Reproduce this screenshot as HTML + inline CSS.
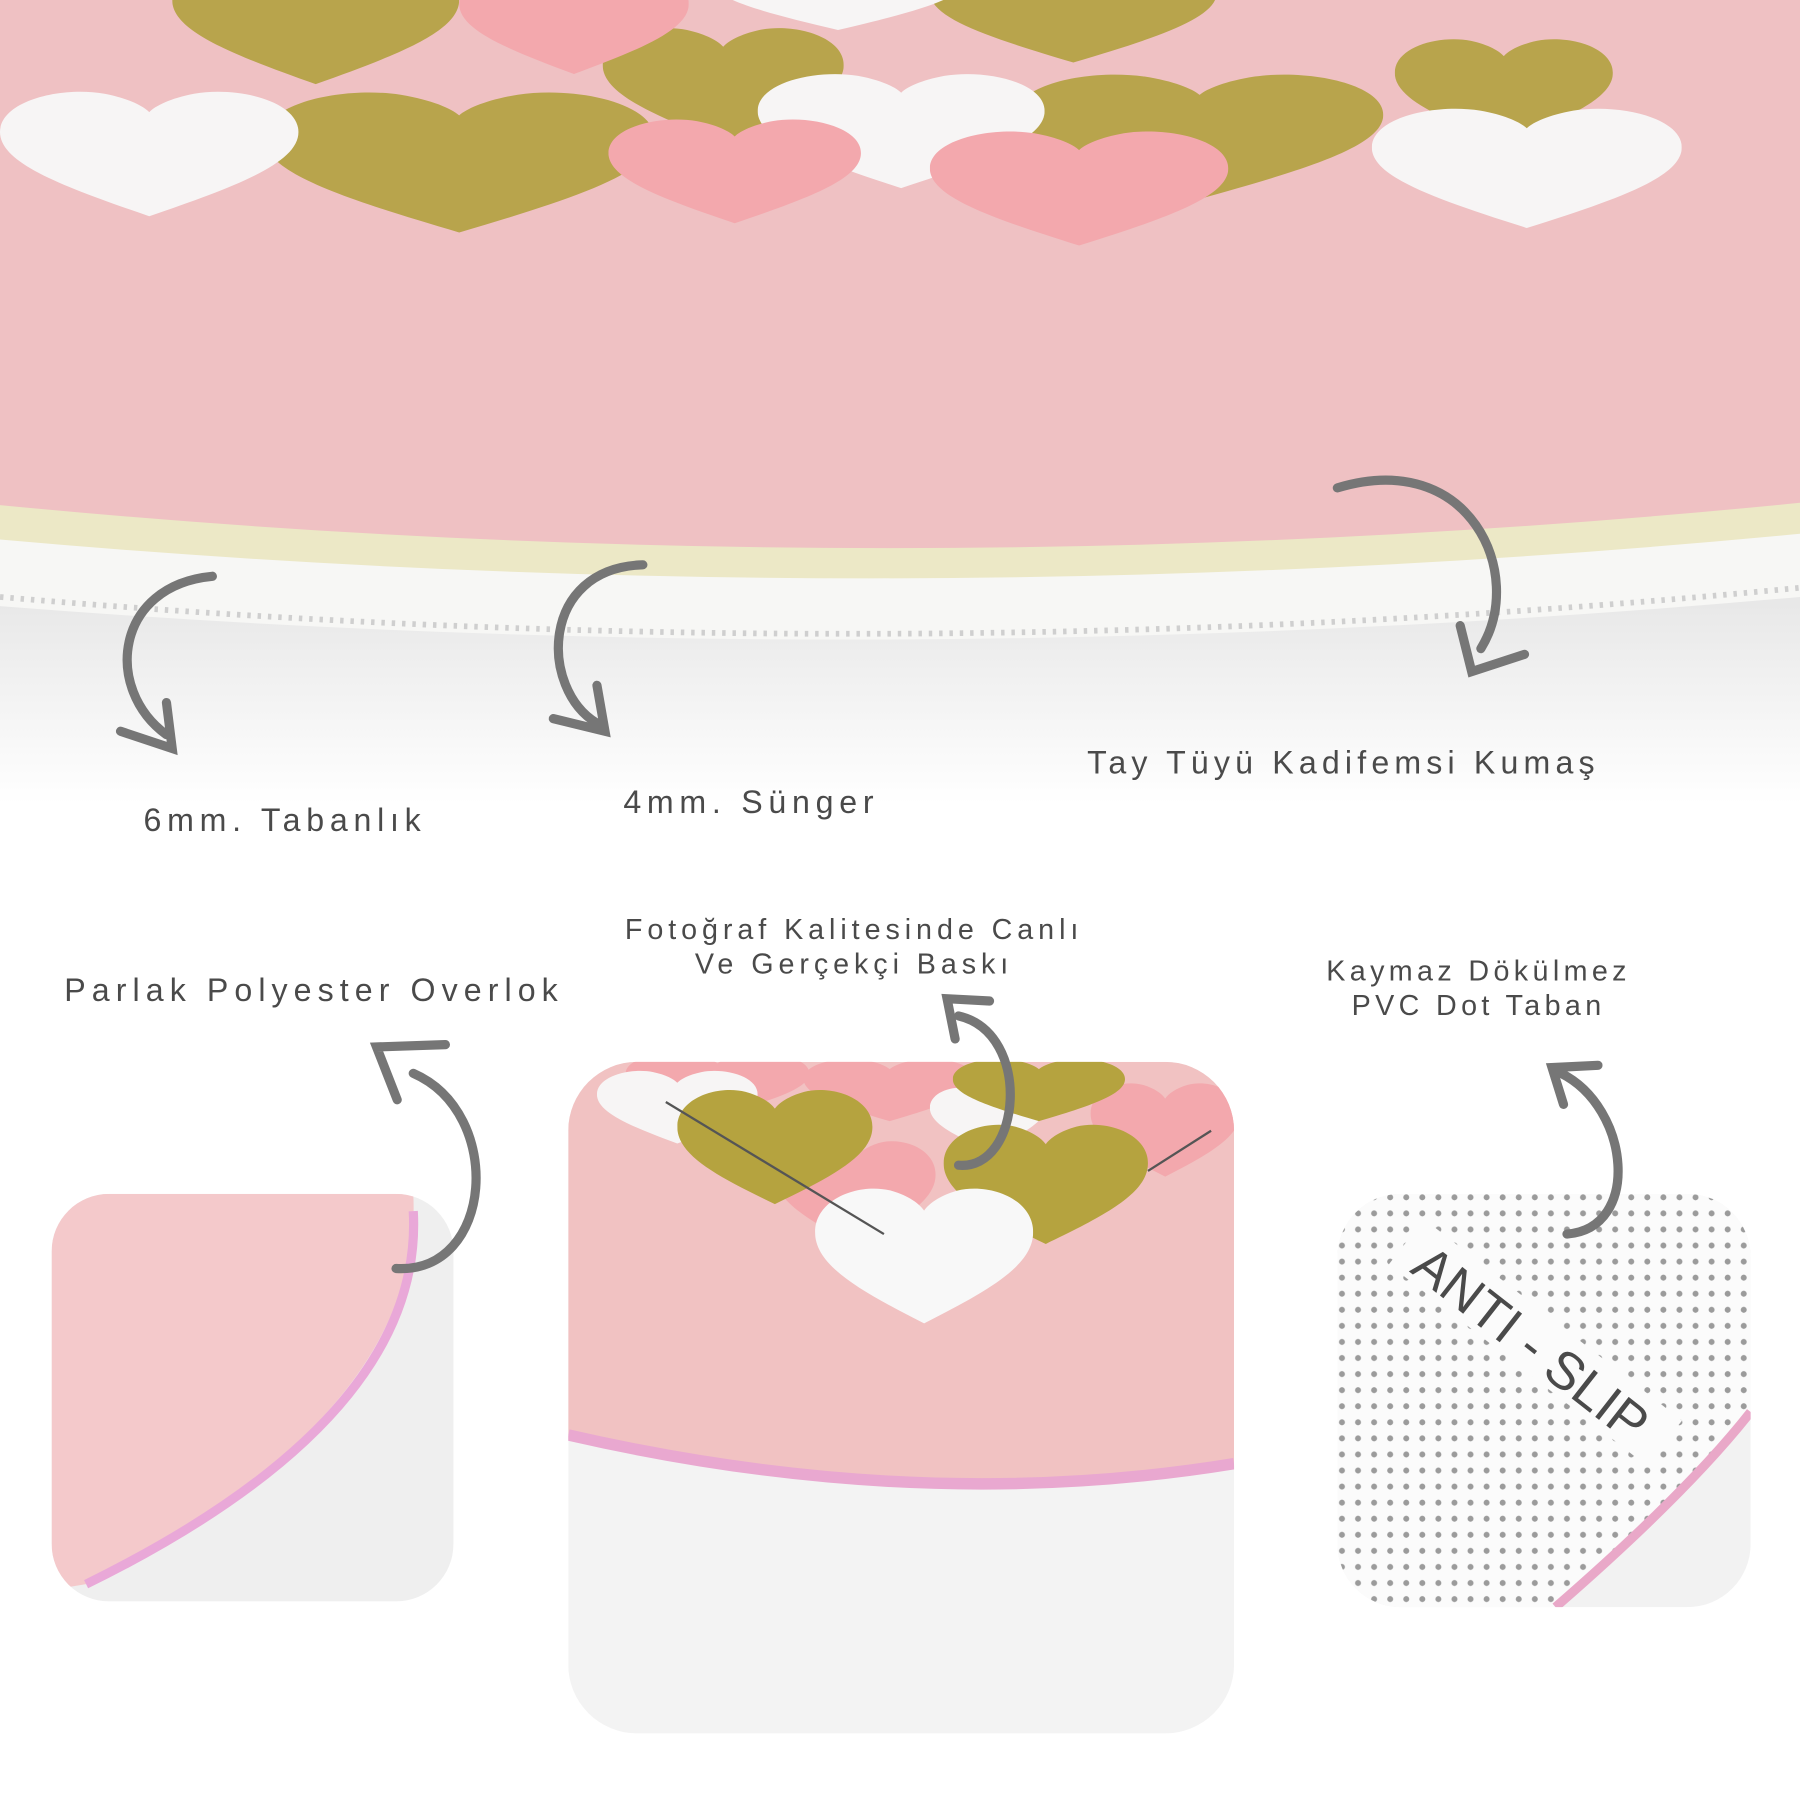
<!DOCTYPE html>
<html><head><meta charset="utf-8"><style>
html,body{margin:0;padding:0;background:#fff;}
svg{display:block}
text{font-family:"Liberation Sans",sans-serif;fill:#4a4a4a;}
</style></head><body>
<svg width="1800" height="1800" viewBox="0 0 1568 1568" xmlns="http://www.w3.org/2000/svg">
<defs>
<symbol id="heart" viewBox="-50 -45 100 90" preserveAspectRatio="none">
<path d="M0 40 C-30 20 -50 5 -50 -15 C-50 -35 -30 -45 -15 -40 C-7 -37 -2 -32 0 -28 C2 -32 7 -37 15 -40 C30 -45 50 -35 50 -15 C50 5 30 20 0 40Z"/>
</symbol>
<pattern id="dots" width="14" height="14" patternUnits="userSpaceOnUse">
<circle cx="7" cy="7" r="2.6" fill="#8a8a8a"/>
</pattern>
<linearGradient id="shadow" x1="0" y1="0" x2="0" y2="1"><stop offset="0" stop-color="#e6e6e6"/><stop offset="1" stop-color="#fff"/></linearGradient>
<clipPath id="cm"><rect x="495" y="925" width="580" height="585" rx="60"/></clipPath>
<clipPath id="cl"><rect x="45" y="1040" width="350" height="355" rx="50"/></clipPath>
<clipPath id="cr"><rect x="1165" y="1040" width="360" height="360" rx="55"/></clipPath>
</defs>
<rect width="1568" height="1568" fill="#fff"/>
<path d="M0 520 Q784 590 1568 510 L1568 700 L0 700Z" fill="url(#shadow)"/>
<path d="M0 430 Q784 516 1568 430 L1568 520 Q784 590 0 528Z" fill="#f7f7f5"/>
<path d="M0 520 Q784 588 1568 512" fill="none" stroke="#cfcfcf" stroke-width="5" stroke-dasharray="3 6"/>
<path d="M0 430 Q784 516 1568 430 L1568 465 Q784 540 0 470Z" fill="#ece8c6"/>
<path d="M0 0 H1568 V438 Q784 516 0 440Z" fill="#efc1c3"/>
<g fill="#b8a44c">
<use href="#heart" x="150" y="-40" width="250" height="120"/>
<use href="#heart" x="525" y="20" width="210" height="110"/>
<use href="#heart" x="230" y="75" width="340" height="135"/>
<use href="#heart" x="810" y="-40" width="250" height="100"/>
<use href="#heart" x="885" y="60" width="320" height="120"/>
<use href="#heart" x="1215" y="30" width="190" height="100"/>
</g>
<g fill="#f7f5f5">
<use href="#heart" x="0" y="75" width="260" height="120"/>
<use href="#heart" x="660" y="60" width="250" height="110"/>
<use href="#heart" x="1195" y="90" width="270" height="115"/>
<use href="#heart" x="620" y="-40" width="220" height="70"/>
</g>
<g fill="#f3a8ad">
<use href="#heart" x="400" y="-30" width="200" height="100"/>
<use href="#heart" x="810" y="110" width="260" height="110"/>
<use href="#heart" x="530" y="100" width="220" height="100"/>
</g>
<g fill="none" stroke="#767676" stroke-width="8" stroke-linecap="round">
<path d="M185 502 C100 510 90 600 145 640"/><path d="M105 637 L150 652 L145 612"/>
<path d="M560 492 C470 495 470 600 520 630"/><path d="M482 626 L527 637 L520 597"/>
<path d="M1165 425 C1280 390 1330 500 1290 565"/><path d="M1272 545 L1282 585 L1328 570"/>
</g>
<text x="125" y="724" font-size="28" letter-spacing="5">6mm. Tabanlık</text>
<text x="543" y="708" font-size="28" letter-spacing="5">4mm. Sünger</text>
<text x="947" y="674" font-size="28" letter-spacing="4.5">Tay Tüyü Kadifemsi Kumaş</text>
<text x="56" y="872" font-size="28" letter-spacing="5.3">Parlak Polyester Overlok</text>
<text x="744" y="818" font-size="25" letter-spacing="4.3" text-anchor="middle">Fotoğraf Kalitesinde Canlı</text>
<text x="744" y="848" font-size="25" letter-spacing="4.3" text-anchor="middle">Ve Gerçekçi Baskı</text>
<text x="1288" y="854" font-size="25" letter-spacing="3.8" text-anchor="middle">Kaymaz Dökülmez</text>
<text x="1288" y="884" font-size="25" letter-spacing="3.8" text-anchor="middle">PVC Dot Taban</text>
<g clip-path="url(#cl)">
<rect x="45" y="1040" width="350" height="355" fill="#efefef"/>
<path d="M45 1040 H360 Q370 1230 75 1380 L45 1385Z" fill="#f4c9cb"/>
<path d="M360 1055 Q370 1235 75 1380" fill="none" stroke="#e9a8d8" stroke-width="8"/>
</g>
<g clip-path="url(#cm)">
<rect x="495" y="925" width="580" height="585" fill="#f3f3f3"/>
<path d="M495 925 H1075 V1275 Q800 1320 495 1250Z" fill="#f1c2c2"/>
<path d="M495 1250 Q800 1320 1075 1275" fill="none" stroke="#e9a8d0" stroke-width="10"/>
<g fill="#f3a8ad"><use href="#heart" x="545" y="915" width="160" height="60"/><use href="#heart" x="700" y="920" width="150" height="60"/><use href="#heart" x="675" y="990" width="140" height="100"/><use href="#heart" x="950" y="940" width="130" height="90"/></g>
<g fill="#f7f5f5"><use href="#heart" x="520" y="930" width="140" height="70"/><use href="#heart" x="810" y="945" width="100" height="60"/></g>
<g fill="#b5a33f"><use href="#heart" x="590" y="945" width="170" height="110"/><use href="#heart" x="830" y="920" width="150" height="60"/><use href="#heart" x="822" y="975" width="178" height="115"/></g>
<use href="#heart" x="710" y="1030" width="190" height="130" fill="#f8f8f8"/>
<path d="M580 960 L770 1075 M1000 1020 L1055 985" stroke="#555" stroke-width="2"/>
</g>
<g clip-path="url(#cr)">
<rect x="1165" y="1040" width="360" height="360" fill="#f2f2f2"/>
<path d="M1165 1040 H1525 V1230 Q1470 1300 1355 1400 H1165Z" fill="#fbfbfb"/>
<path d="M1165 1040 H1525 V1230 Q1470 1300 1355 1400 H1165Z" fill="url(#dots)" opacity="0.85"/>
<path d="M1525 1230 Q1470 1300 1355 1400" fill="none" stroke="#e9a8c8" stroke-width="8"/>
<g transform="translate(1330 1175) rotate(38)"><rect x="-140" y="-34" width="285" height="50" fill="#fbfbfb"/>
<text x="0" y="10" font-size="46" text-anchor="middle" style="fill:#4a4a4a">ANTI - SLIP</text></g>
</g>
<g fill="none" stroke="#767676" stroke-width="8" stroke-linecap="round">
<path d="M360 935 C440 970 430 1110 345 1105"/><path d="M346 958 L328 912 L388 910"/>
<path d="M835 885 C900 900 890 1020 835 1015"/><path d="M832 905 L825 870 L862 872"/>
<path d="M1360 935 C1420 965 1430 1070 1365 1075"/><path d="M1362 962 L1352 930 L1392 928"/>
</g>
</svg>
</body></html>
